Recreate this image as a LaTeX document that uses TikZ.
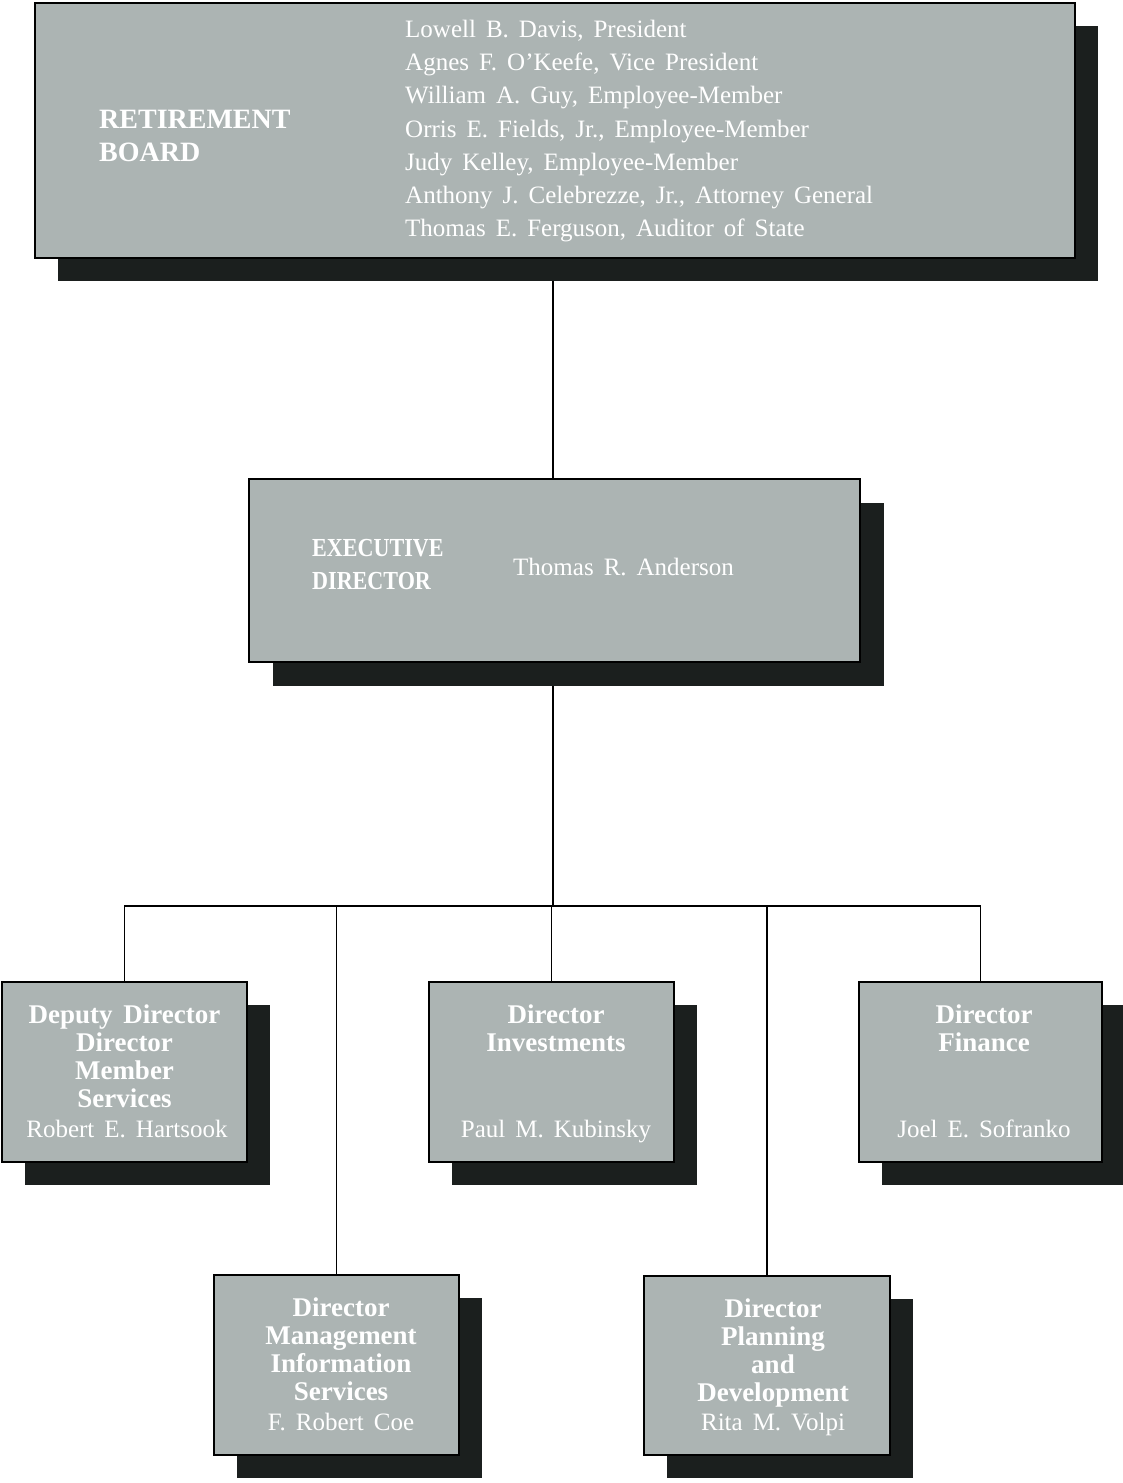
\documentclass[tikz,border=0pt]{standalone}
\usepackage{fontspec}
\setmainfont[WordSpace=1.6]{Liberation Serif}
\newfontfamily\condfont[FakeStretch=0.85,WordSpace=1.6]{Liberation Serif}
\usetikzlibrary{shadows}
\definecolor{boxc}{RGB}{172,180,179}
\definecolor{shadc}{RGB}{27,31,30}
\pgfdeclarelayer{paper}
\pgfdeclarelayer{bg}
\pgfsetlayers{paper,bg,main}
\begin{document}
\begin{tikzpicture}[x=1pt,y=-1pt,
  box/.style={draw=black, line width=1.8pt, fill=boxc, inner sep=0pt,
    drop shadow={shadow xshift=23pt, shadow yshift=-23pt, fill=shadc, opacity=1}},
  bigbox/.style={draw=black, line width=1.8pt, fill=boxc, inner sep=0pt,
    drop shadow={shadow xshift=24pt, shadow yshift=-24pt, fill=shadc, opacity=1}},
  txt/.style={text=white, inner sep=0pt},
  ttl/.style={txt, font=\bfseries\fontsize{27}{28}\selectfont, align=center, anchor=north},
  nme/.style={txt, font=\fontsize{25}{28}\selectfont, anchor=base},
  conn/.style={line width=1.8pt, draw=black}]
\useasboundingbox (0,0) rectangle (1123,1483);
\begin{pgfonlayer}{paper}
\fill[white] (0,0) rectangle (1123,1483);
\end{pgfonlayer}

% Retirement board
\node[box, minimum width=1040pt, minimum height=255pt] (board) at (555,130.5) {};
\node[txt, font=\bfseries\fontsize{28}{33}\selectfont, align=left, anchor=north west]
  (boardttl) at (99,110) {RETIREMENT\\BOARD};
\node[txt, font=\fontsize{25}{33.2}\selectfont, align=left, anchor=north west]
  (members) at (405,20) {Lowell B. Davis, President\\
  Agnes F. O'Keefe, Vice President\\
  William A. Guy, Employee-Member\\
  Orris E. Fields, Jr., Employee-Member\\
  Judy Kelley, Employee-Member\\
  Anthony J. Celebrezze, Jr., Attorney General\\
  Thomas E. Ferguson, Auditor of State};

% Executive director
\node[bigbox, minimum width=611pt, minimum height=183pt] (exec) at (554.5,570.5) {};
\node[txt, font=\condfont\bfseries\fontsize{26}{33}\selectfont, align=left, anchor=north west]
  (execttl) at (312,539) {EXECUTIVE\\DIRECTOR};
\node[txt, font=\fontsize{25}{28}\selectfont, anchor=base west] (execname) at (513,575) {Thomas R. Anderson};

% Directors
\node[box, minimum width=245pt, minimum height=180pt] (dep) at (124.5,1072) {};
\node[box, minimum width=245pt, minimum height=180pt] (inv) at (551.5,1072) {};
\node[box, minimum width=243pt, minimum height=180pt] (fin) at (980.5,1072) {};
\node[box, minimum width=245pt, minimum height=180pt] (mis) at (336.5,1365) {};
\node[box, minimum width=246pt, minimum height=179pt] (pla) at (767,1365.5) {};

\node[ttl] (depttl) at (124.5,1005) {Deputy Director\\Director\\Member\\Services};
\node[nme] (depname) at (127,1137) {Robert E. Hartsook};
\node[ttl] (invttl) at (556,1005) {Director\\Investments};
\node[nme] (invname) at (556,1137) {Paul M. Kubinsky};
\node[ttl] (finttl) at (984,1005) {Director\\Finance};
\node[nme] (finname) at (984,1137) {Joel E. Sofranko};
\node[ttl] (misttl) at (341,1298) {Director\\Management\\Information\\Services};
\node[nme] (misname) at (341,1430) {F. Robert Coe};
\node[ttl] (plattl) at (773,1299) {Director\\Planning\\and\\Development};
\node[nme] (planame) at (773,1430) {Rita M. Volpi};

\coordinate (bus) at (553,906);

\begin{pgfonlayer}{bg}
\draw[conn] (board.south -| bus) -- (exec.north -| bus);
\draw[conn] (exec.south -| bus) -- (bus);
\draw[conn] (dep.north) |- (bus) -| (fin.north);
\draw[conn] (inv.north) -- (inv.north |- bus);
\draw[conn] (mis.north) -- (mis.north |- bus);
\draw[conn] (pla.north) -- (pla.north |- bus);
\end{pgfonlayer}
\end{tikzpicture}
\end{document}
